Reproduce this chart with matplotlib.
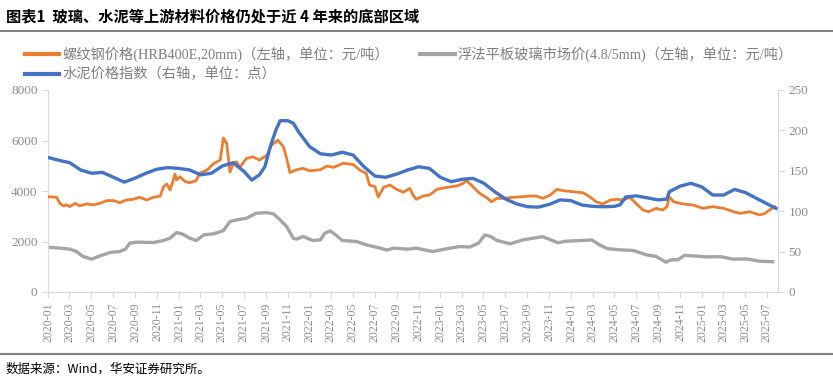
import numpy as np
import pandas as pd
import matplotlib
matplotlib.use("Agg")
import matplotlib.pyplot as plt
import matplotlib.dates as mdates
from matplotlib.lines import Line2D

plt.rcParams['font.family'] = ['Liberation Serif', 'Noto Sans CJK SC', 'DejaVu Sans']

# ---------- data (time = months since 2020-01) ----------
rebar_t = [0.0, 0.8, 1.1, 1.4, 1.7, 2.0, 2.5, 2.9, 3.55, 4.16, 4.77, 5.4, 6.0, 6.6, 7.2, 7.8, 8.4, 9.06,
           9.66, 10.3, 10.6, 10.9, 11.2, 11.5, 11.65, 11.8, 12.1, 12.6, 13.0, 13.6, 13.9, 14.6, 15.2, 15.8,
           16.1, 16.4, 16.7, 17.0, 17.3, 17.6, 18.2, 18.8, 19.4, 20.1, 20.5, 21.1, 21.6, 21.9, 22.2, 22.8,
           23.4, 24.0, 25.0, 25.6, 26.2, 27.1, 28.0, 28.6, 29.2, 29.5, 30.0, 30.3, 30.8, 31.4, 32.0, 32.6,
           33.2, 33.5, 33.8, 34.4, 35.0, 35.7, 36.6, 37.5, 38.1, 38.4, 39.0, 39.6, 40.2, 40.7, 41.2, 41.8,
           42.7, 43.6, 44.2, 44.8, 45.4, 46.1, 46.7, 47.3, 48.2, 49.1, 49.7, 50.3, 50.9, 51.6, 52.2, 52.8,
           53.4, 54.0, 54.6, 55.1, 55.8, 56.4, 56.8, 57.0, 57.4, 58.3, 59.2, 60.1, 61.0, 62.0, 62.9, 63.5,
           64.4, 65.3, 65.8, 66.2, 66.7]
rebar = [3776, 3750, 3513, 3408, 3450, 3380, 3513, 3410, 3490, 3450, 3513, 3620, 3620, 3540, 3645, 3670, 3750, 3645,
         3750, 3800, 4170, 4275, 4040, 4435, 4670, 4435, 4565, 4370, 4330, 4410, 4700, 4830, 5090, 5225,
         6100, 5880, 4750, 5090, 5160, 4935, 5290, 5355, 5225, 5420, 5815, 6010, 5750, 5290, 4730, 4840,
         4900, 4800, 4840, 4990, 4935, 5100, 5050, 4830, 4700, 4237, 4170, 3760, 4150, 4237, 4060, 3950,
         4105, 3840, 3670, 3800, 3840, 4065, 4145, 4197, 4305, 4410, 4170, 3908, 3750, 3576, 3710, 3710,
         3750, 3775, 3800, 3800, 3710, 3840, 4065, 4010, 3972, 3930, 3775, 3576, 3485, 3643, 3670, 3643,
         3750, 3485, 3247, 3180, 3313, 3247, 3380, 3775, 3576, 3485, 3445, 3313, 3380, 3313, 3180, 3115,
         3180, 3050, 3115, 3247, 3380]

glass_t = [0, 1.1, 2.0, 2.6, 3.2, 4.0, 4.8, 5.7, 6.6, 7.1, 7.5, 8.1, 9.7, 10.6, 11.2, 11.8, 12.3, 13.0, 13.6,
           14.3, 15.2, 16.1, 16.7, 17.3, 18.2, 19.1, 20.1, 20.7, 21.3, 21.9, 22.5, 22.8, 23.4, 24.3, 25.0,
           25.4, 25.9, 26.5, 27.0, 28.3, 29.2, 30.5, 31.1, 31.7, 33.0, 33.8, 35.3, 36.9, 37.8, 38.7, 39.5,
           40.1, 40.6, 41.2, 42.4, 43.6, 45.4, 46.8, 47.5, 49.9, 50.6, 51.3, 52.5, 53.7, 54.9, 55.8, 56.7,
           57.2, 57.8, 58.4, 59.2, 60.4, 61.7, 62.9, 64.1, 65.3, 66.5]
glass = [1776, 1737, 1697, 1605, 1408, 1303, 1434, 1566, 1605, 1697, 1934, 1974, 1960, 2040, 2132, 2355, 2303, 2132, 2040,
         2263, 2303, 2434, 2790, 2855, 2921, 3118, 3145, 3092, 2855, 2592, 2132, 2092, 2197, 2040, 2066,
         2329, 2421, 2224, 2040, 2000, 1868, 1737, 1660, 1737, 1697, 1737, 1603, 1738, 1800, 1780, 1935,
         2263, 2200, 2040, 1908, 2066, 2190, 1950, 2010, 2060, 1868, 1720, 1670, 1645, 1473, 1408, 1180,
         1276, 1276, 1450, 1430, 1390, 1400, 1300, 1310, 1220, 1200]

cement_t = [0, 1, 2, 3, 4, 5, 6, 7, 8, 9, 10, 11, 12, 13, 14, 15, 16, 17, 18, 18.7, 19.4, 19.9, 20.4, 20.9,
            21.3, 22, 22.5, 23, 24, 25, 26, 27, 28, 29, 30, 31, 32, 33, 34, 35, 36, 37, 38, 39, 40, 41, 42,
            43, 44, 45, 46, 47, 48, 49, 50, 51, 52, 52.5, 53, 54, 55, 56, 56.8, 57, 58, 59, 60, 61, 62, 63,
            64, 65, 66, 66.8]
cement = [166.5, 163, 160, 151, 147, 148, 142, 136, 141, 147, 152, 154, 153, 151, 145, 147, 156, 160, 149, 138.5,
          145, 155, 180, 200, 212, 212, 209, 198, 180, 171, 169.5, 173, 169.5, 155, 143.5, 142, 146, 151, 155,
          153, 142, 136.5, 139.5, 140.6, 134.5, 124, 115, 109, 105.6, 105, 108.5, 114, 113, 107.6, 106, 105.5,
          106, 108, 117.5, 119, 116.5, 114, 115, 124, 131, 134.5, 130, 120, 120, 127, 123, 116, 109, 103.5]

labels = ["螺纹钢价格(HRB400E,20mm)（左轴，单位：元/吨）",
          "浮法平板玻璃市场价(4.8/5mm)（左轴，单位：元/吨）",
          "水泥价格指数（右轴，单位：点）"]
title = "图表1  玻璃、水泥等上游材料价格仍处于近 4 年来的底部区域"
source = "数据来源：Wind，华安证券研究所。"

start = pd.Timestamp("2020-01-01")
def to_dates(t):
    return start + pd.to_timedelta(np.array(t) * 30.44, unit="D")

C_OR, C_GR, C_BL = "#ED7D31", "#A5A5A5", "#4472C4"
TXT = "#8C8C8C"

fig = plt.figure(figsize=(8.33, 3.79), dpi=100)
ax = fig.add_axes([48/833, 1-292/379, 730/833, 202/379])
ax2 = ax.twinx()

ax.plot(to_dates(rebar_t), rebar, color=C_OR, lw=2.0, zorder=3)
ax.plot(to_dates(glass_t), glass, color=C_GR, lw=2.4, zorder=2)
ax2.plot(to_dates(cement_t), cement, color=C_BL, lw=2.4, zorder=3)

ax.set_ylim(0, 8000); ax.set_yticks(range(0, 8001, 2000))
ax2.set_ylim(0, 250); ax2.set_yticks(range(0, 251, 50))
ax.set_xlim(start, pd.Timestamp("2025-08-01"))
ticks = pd.date_range("2020-01-01", "2025-07-01", freq="2MS")
ax.set_xticks(ticks)
ax.xaxis.set_major_formatter(mdates.DateFormatter("%Y-%m"))
plt.setp(ax.get_xticklabels(), rotation=90)

for a in (ax, ax2):
    a.spines["top"].set_visible(False)
    for s in ("left", "right", "bottom"):
        a.spines[s].set_color("#D9D9D9")
    a.tick_params(colors="#D9D9D9", labelcolor=TXT, labelsize=9.5, length=4)
ax.tick_params(axis="x", labelsize=8.5)
ax2.spines["left"].set_visible(False); ax.spines["right"].set_visible(False)

handles = [Line2D([], [], color=C_OR, lw=3), Line2D([], [], color=C_BL, lw=3), Line2D([], [], color=C_GR, lw=3)]
leg = fig.legend(handles, [labels[0], labels[2], labels[1]], ncol=2, loc="upper left",
                 bbox_to_anchor=(12/833, 1-34/379), frameon=False,
                 handlelength=2.4, handletextpad=0.2, columnspacing=2.2, labelspacing=0.35,
                 prop={"family": ["Liberation Serif", "Noto Sans CJK SC"], "size": 10.3})
for t in leg.get_texts():
    t.set_color("#7F7F7F")

fig.text(6/833, 1-16/379, title, fontsize=11, fontweight="bold", va="center",
         family=["Noto Sans CJK SC", "DejaVu Sans"])
fig.add_artist(Line2D([0, 1], [1-31/379, 1-31/379], transform=fig.transFigure, color="#808080", lw=1.5))
fig.add_artist(Line2D([0, 1], [1-354/379, 1-354/379], transform=fig.transFigure, color="#808080", lw=1.5))
fig.text(6/833, 1-369/379, source, fontsize=9, va="center", family=["Noto Sans CJK SC", "DejaVu Sans"])

fig.savefig("out.png", dpi=100)
